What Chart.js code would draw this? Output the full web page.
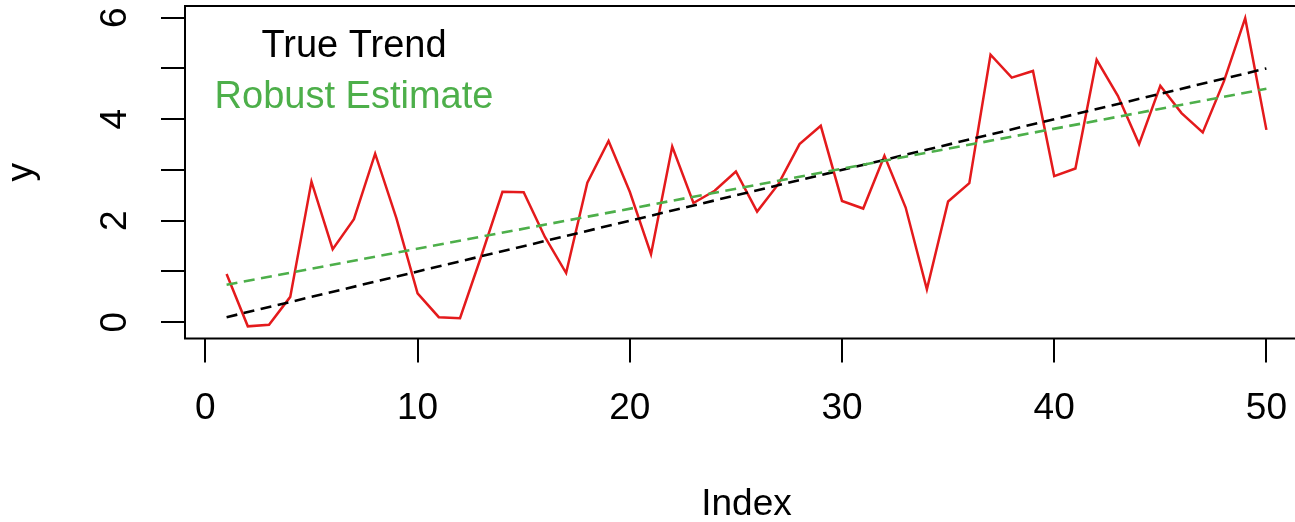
<!DOCTYPE html>
<html>
<head>
<meta charset="utf-8">
<script src="https://cdn.jsdelivr.net/npm/chart.js@4"></script>
<style>
  html, body { margin: 0; padding: 0; background: #fff; overflow: hidden; }
  #wrap { width: 1320px; height: 522px; position: relative; }
</style>
</head>
<body>
<div id="wrap"><canvas id="trendChart"></canvas></div>
<script>
// observations (index 1..50)
const index = [1, 2, 3, 4, 5, 6, 7, 8, 9, 10, 11, 12, 13, 14, 15, 16, 17, 18, 19, 20,
  21, 22, 23, 24, 25, 26, 27, 28, 29, 30, 31, 32, 33, 34, 35, 36, 37, 38, 39, 40,
  41, 42, 43, 44, 45, 46, 47, 48, 49, 50];
const yValues = [0.95, -0.08, -0.05, 0.50, 2.77, 1.44, 2.03, 3.32, 2.05, 0.57,
  0.10, 0.08, 1.30, 2.57, 2.56, 1.68, 0.97, 2.75, 3.57, 2.57,
  1.34, 3.46, 2.35, 2.59, 2.97, 2.18, 2.72, 3.51, 3.87, 2.39,
  2.24, 3.28, 2.26, 0.65, 2.38, 2.74, 5.27, 4.82, 4.95, 2.88,
  3.03, 5.17, 4.46, 3.51, 4.66, 4.12, 3.74, 4.75, 5.99, 3.79];

// fitted lines (end points)
const lineX = [1, 50];
const trueTrendY = [0.1, 5.0];
const robustY = [0.74, 4.60];

// axes
const xTicks = [0, 10, 20, 30, 40, 50];
const yTicks = [0, 1, 2, 3, 4, 5, 6];
const yTickLabels = ['0', '', '2', '', '4', '', '6'];

const FONT = '"Liberation Sans", Arial, Helvetica, sans-serif';
const RED = '#E41A1C';
const GREEN = '#4DAF4A';

Chart.defaults.color = '#000';
Chart.defaults.font.family = FONT;

function pts(xs, ys) {
  return xs.map((x, i) => ({ x: x, y: ys[i] }));
}

// R-style box + legend text inside the plot
const boxAndLegend = {
  id: 'boxAndLegend',
  afterDraw(chart) {
    const { ctx, chartArea } = chart;
    ctx.save();
    ctx.strokeStyle = '#000';
    ctx.lineWidth = 2;
    ctx.strokeRect(chartArea.left, chartArea.top,
      chartArea.right - chartArea.left, chartArea.bottom - chartArea.top);

    ctx.font = '38px ' + FONT;
    ctx.textAlign = 'center';
    ctx.textBaseline = 'alphabetic';
    const cx = chartArea.left + 169;
    const legendItems = [chart.data.datasets[1], chart.data.datasets[0]];
    legendItems.forEach((ds, i) => {
      ctx.fillStyle = ds.borderColor;
      ctx.fillText(ds.label, cx, 57 + i * 50.6);
    });
    ctx.restore();
  }
};

new Chart(document.getElementById('trendChart'), {
  type: 'line',
  data: {
    datasets: [
      {
        label: 'Robust Estimate',
        data: pts(lineX, robustY),
        borderColor: GREEN,
        borderWidth: 2.6,
        borderDash: [11, 6.5],
        pointRadius: 0
      },
      {
        label: 'True Trend',
        data: pts(lineX, trueTrendY),
        borderColor: '#000',
        borderWidth: 2.6,
        borderDash: [11, 6.5],
        pointRadius: 0
      },
      {
        label: 'y',
        data: pts(index, yValues),
        borderColor: RED,
        borderWidth: 2.5,
        pointRadius: 0,
        tension: 0
      }
    ]
  },
  options: {
    responsive: true,
    maintainAspectRatio: false,
    animation: false,
    devicePixelRatio: 1,
    layout: { padding: { top: 6, right: 12, left: 0, bottom: 0 } },
    plugins: {
      legend: { display: false },
      tooltip: { enabled: false }
    },
    scales: {
      x: {
        type: 'linear',
        min: -0.96,
        max: 51.96,
        afterFit: s => { s.height = 183.5; s.paddingLeft = 0; s.paddingRight = 0; },
        afterBuildTicks: s => { s.ticks = xTicks.map(v => ({ value: v })); },
        border: { display: false },
        grid: { drawOnChartArea: false, drawTicks: true, tickLength: 24, color: '#000', lineWidth: 2 },
        ticks: { font: { size: 37 }, padding: 24, maxRotation: 0, autoSkip: false },
        title: { display: true, text: 'Index', font: { size: 37 }, padding: { top: 0, bottom: -5 } }
      },
      y: {
        type: 'linear',
        min: -0.32,
        max: 6.23,
        afterFit: s => { s.width = 185; s.paddingTop = 0; s.paddingBottom = 0; },
        afterBuildTicks: s => { s.ticks = yTicks.map(v => ({ value: v })); },
        border: { display: false },
        grid: { drawOnChartArea: false, drawTicks: true, tickLength: 24, color: '#000', lineWidth: 2 },
        ticks: {
          font: { size: 37 },
          padding: 35,
          minRotation: 90,
          maxRotation: 90,
          crossAlign: 'center',
          autoSkip: false,
          callback: (v, i) => yTickLabels[i]
        },
        title: { display: true, text: 'y', font: { size: 37 }, padding: { top: 0, bottom: 0 } }
      }
    }
  },
  plugins: [boxAndLegend]
});
</script>
</body>
</html>
